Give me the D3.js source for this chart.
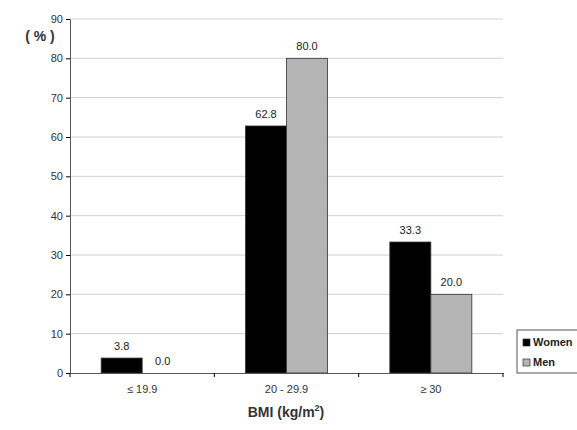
<!DOCTYPE html>
<html><head><meta charset="utf-8">
<script src="https://cdn.jsdelivr.net/npm/d3@7"></script>
<style>body{margin:0;background:#fff;font-family:"Liberation Sans",Arial,sans-serif}</style>
</head><body><div id="grafico"></div>
<script>
const categorias = ["≤ 19.9", "20 - 29.9", "≥ 30"]
const series = ["Women", "Men"]
const women = [3.8, 62.8, 33.3]
const men = [0.0, 80.0, 20.0]
const yTicks = [0, 10, 20, 30, 40, 50, 60, 70, 80, 90]
const cores = {Women: "#000000", Men: "#b4b4b4"}

const margin = {top: 19, right: 74, bottom: 57, left: 70},
  width = 433,
  height = 354

const svg = d3.select("#grafico").append("svg")
  .attr("width", 577).attr("height", 430)
const g = svg.append("g").attr("transform", `translate(${margin.left},${margin.top})`)

const x = d3.scaleBand().domain(categorias).range([0, width])
const x1 = d3.scaleBand().domain(series).range([x.bandwidth() / 2 - 41, x.bandwidth() / 2 + 41])
const y = d3.scaleLinear().domain([0, 90]).range([height, 0])

// grade
g.selectAll(".grid").data(yTicks.slice(1)).join("line")
  .attr("x1", 0).attr("x2", width)
  .attr("y1", d => y(d)).attr("y2", d => y(d))
  .attr("stroke", "#d0d0d0")

const dados = categorias.map((c, i) => ({c, vals: [{s: "Women", v: women[i]}, {s: "Men", v: men[i]}]}))
const grupos = g.selectAll(".grp").data(dados).join("g")
  .attr("transform", d => `translate(${x(d.c)},0)`)
grupos.selectAll("rect").data(d => d.vals.filter(e => e.v > 0)).join("rect")
  .attr("x", d => x1(d.s)).attr("width", x1.bandwidth())
  .attr("y", d => y(d.v)).attr("height", d => height - y(d.v))
  .attr("fill", d => cores[d.s]).attr("stroke", "#333").attr("stroke-width", 0.8)
grupos.selectAll("text").data(d => d.vals).join("text")
  .attr("x", d => x1(d.s) + x1.bandwidth() / 2).attr("y", d => y(d.v) - 8)
  .attr("text-anchor", "middle").attr("font-size", "11px").attr("fill", "#222")
  .text(d => d.v.toFixed(1))

// eixos
const yAxis = g.append("g").call(d3.axisLeft(y).tickValues(yTicks).tickSize(4).tickSizeOuter(0))
yAxis.selectAll("text").attr("font-size", "11px").attr("fill", "#333").attr("font-family", "Liberation Sans, Arial")
const xAxis = g.append("g").attr("transform", `translate(0,${height})`)
  .call(d3.axisBottom(x).tickSize(0).tickSizeOuter(0).tickPadding(12))
xAxis.selectAll("text").attr("font-size", "11px").attr("fill", "#333").attr("font-family", "Liberation Sans, Arial")
xAxis.selectAll(".sep").data(d3.range(4)).join("line")
  .attr("x1", d => d * x.bandwidth()).attr("x2", d => d * x.bandwidth())
  .attr("y1", 0).attr("y2", 4).attr("stroke", "#000")
g.selectAll(".domain").attr("stroke", "#555")

svg.append("text").attr("x", 40).attr("y", 41).attr("text-anchor", "middle")
  .attr("font-size", "14px").attr("font-weight", "bold").attr("fill", "#333").text("( % )")
const lbl = svg.append("text").attr("x", 286).attr("y", 417).attr("text-anchor", "middle")
  .attr("font-size", "14px").attr("font-weight", "bold").attr("fill", "#333")
lbl.append("tspan").text("BMI (kg/m")
lbl.append("tspan").attr("font-size", "9px").attr("dy", -6).text("2")
lbl.append("tspan").attr("dy", 6).text(")")

// legenda
const leg = svg.append("g").attr("transform", "translate(517,330)")
leg.append("rect").attr("width", 62).attr("height", 43).attr("fill", "#fff").attr("stroke", "#555")
series.forEach((s, i) => {
  leg.append("rect").attr("x", 6).attr("y", 9 + i * 20).attr("width", 7).attr("height", 7)
    .attr("fill", cores[s]).attr("stroke", "#333").attr("stroke-width", 0.7)
  leg.append("text").attr("x", 16).attr("y", 16 + i * 20).attr("font-size", "11px")
    .attr("font-weight", "bold").attr("fill", "#222").text(s)
})
</script></body></html>
